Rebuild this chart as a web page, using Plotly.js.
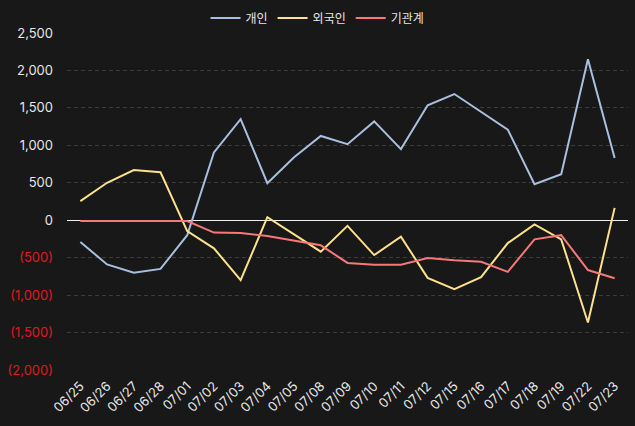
<!DOCTYPE html>
<html><head><meta charset="utf-8">
<script src="https://cdn.plot.ly/plotly-3.0.1.min.js"></script>
<style>html,body{margin:0;padding:0;background:#181818;}#chart{width:635px;height:426px;}</style>
</head><body><div id="chart"></div>
<script>
const dates = ["06/25","06/26","06/27","06/28","07/01","07/02","07/03","07/04","07/05","07/08","07/09","07/10","07/11","07/12","07/15","07/16","07/17","07/18","07/19","07/22","07/23"];
const individual = [-290,-590,-700,-650,-200,905,1350,495,840,1125,1015,1320,950,1535,1685,1445,1210,480,615,2150,830];
const foreign = [255,500,670,640,-145,-375,-800,40,-190,-420,-75,-465,-220,-770,-920,-760,-305,-55,-255,-1365,165];
const institution = [-10,-10,-10,-10,-10,-165,-170,-210,-270,-335,-570,-595,-595,-505,-535,-555,-690,-255,-200,-665,-775];
const yTickVals = [2500,2000,1500,1000,500,0,-500,-1000,-1500,-2000];
const yTickText = ["2,500","2,000","1,500","1,000","500","0",
  '<span style="color:#e0191e">(500)</span>','<span style="color:#e0191e">(1,000)</span>',
  '<span style="color:#e0191e">(1,500)</span>','<span style="color:#e0191e">(2,000)</span>'];
const font = "Inter, 'Noto Sans CJK KR', sans-serif";
const mk = (name, y, color) => ({type:'scatter', mode:'lines', name, x:dates, y, line:{color, width:2}});
const data = [
  mk('개인', individual, '#a9bfe0'),
  mk('외국인', foreign, '#fde08a'),
  mk('기관계', institution, '#f77878')
];
const layout = {
  width:635, height:426,
  paper_bgcolor:'#181818', plot_bgcolor:'#181818',
  margin:{l:67, r:7, t:33, b:56, autoexpand:false},
  font:{family:font, color:'#e6e6e6', size:13},
  showlegend:true,
  legend:{orientation:'h', x:0.5, xanchor:'center', xref:'container', y:1-18/426, yanchor:'middle', yref:'container',
    font:{family:"'Noto Sans CJK KR', sans-serif", size:12, color:'#e6e6e6'}, bgcolor:'rgba(0,0,0,0)'},
  xaxis:{type:'category', tickangle:-45, showgrid:false, zeroline:false, showline:false, automargin:false,
    ticks:'', tickfont:{size:13, color:'#e6e6e6'}, range:[-0.5,20.5], ticklabelstandoff:5},
  yaxis:{range:[-2000,2500], tickvals:yTickVals, ticktext:yTickText, showgrid:true, automargin:false,
    gridcolor:'#3c3c3c', griddash:'4px,3px', gridwidth:1, zeroline:true, zerolinecolor:'#f0f0f0',
    zerolinewidth:1, showline:false, ticks:'', tickfont:{size:13, color:'#e6e6e6'}, ticklabelstandoff:13}
};
Plotly.newPlot('chart', data, layout, {displayModeBar:false, staticPlot:true});
</script></body></html>
